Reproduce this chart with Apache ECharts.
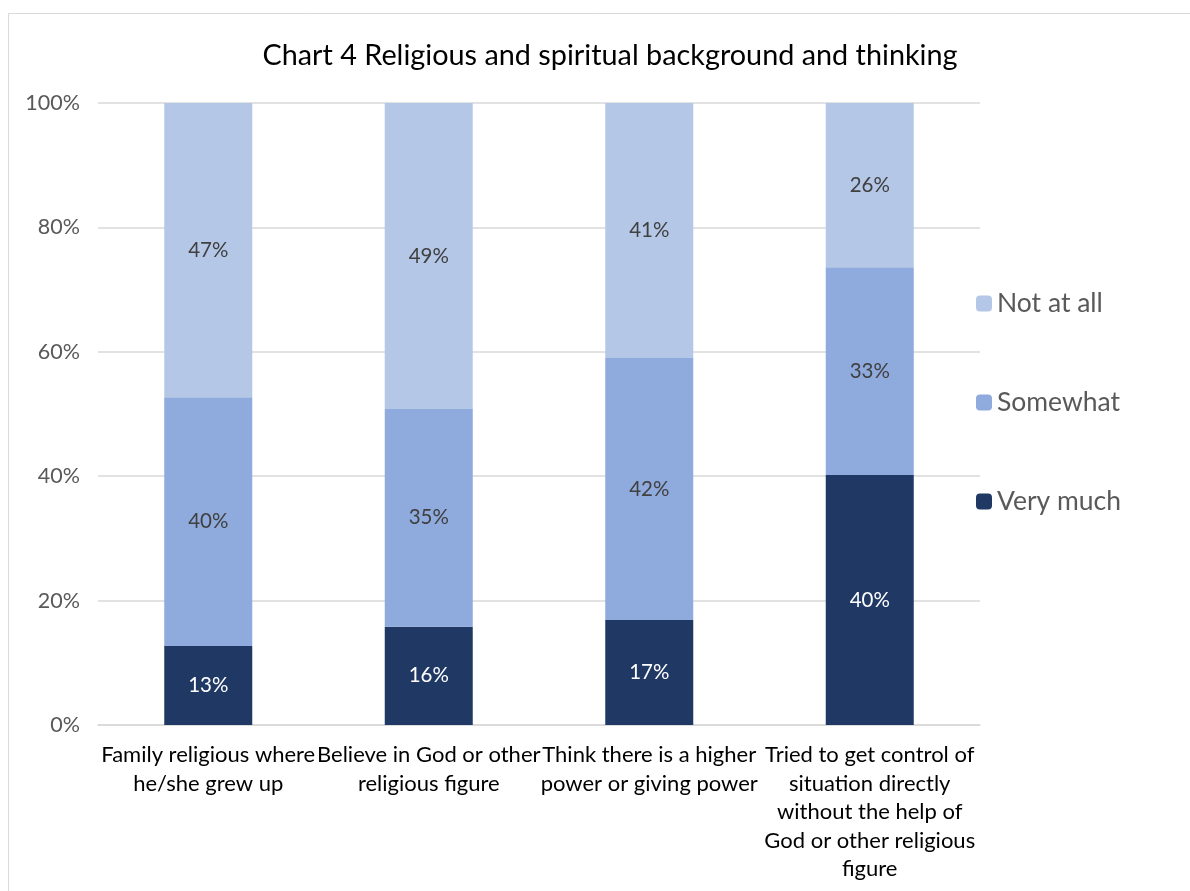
<!DOCTYPE html>
<html>
<head>
<meta charset="utf-8">
<script src="https://cdn.jsdelivr.net/npm/echarts@6/dist/echarts.min.js"></script>
<style>html,body{margin:0;padding:0;background:#fff;}#c{width:1190px;height:891px;}</style>
</head>
<body>
<div id="c"></div>
<script>
const categories = [
  "Family religious where\nhe/she grew up",
  "Believe in God or other\nreligious figure",
  "Think there is a higher\npower or giving power",
  "Tried to get control of\nsituation directly\nwithout the help of\nGod or other religious\nfigure"
];
const veryMuch = [12.7, 15.8, 16.9, 40.2];
const somewhat = [40.0, 35.0, 42.1, 33.4];
const notAtAll = [47.3, 49.2, 41.0, 26.4];
const yTicks = [0, 20, 40, 60, 80, 100];

const FONT = 'Lato, "Open Sans", sans-serif';
const chart = echarts.init(document.getElementById('c'));
const lbl = (color) => ({
  show: true, position: 'inside', color: color, fontSize: 20.5, fontFamily: FONT,
  formatter: p => Math.round(p.value) + '%'
});
chart.setOption({
  animation: false,
  textStyle: { fontFamily: FONT },
  title: {
    text: 'Chart 4 Religious and spiritual background and thinking',
    left: 605, top: 36, textAlign: 'center',
    textStyle: { fontSize: 28.8, fontWeight: 'normal', color: '#000', fontFamily: FONT }
  },
  graphic: [{
    type: 'rect', shape: { x: 8.5, y: 13.5, width: 1190, height: 900 },
    style: { fill: 'none', stroke: '#d9d9d9', lineWidth: 1 }, silent: true
  }],
  legend: {
    orient: 'vertical', left: 971, top: 285, itemGap: 72,
    itemWidth: 16, itemHeight: 16, padding: 5,
    data: ['Not at all', 'Somewhat', 'Very much'],
    textStyle: { fontSize: 26.5, color: '#595959', fontFamily: FONT }
  },
  grid: { left: 98, right: 210, top: 103, bottom: 166 },
  xAxis: {
    type: 'category', data: categories,
    axisTick: { show: false },
    axisLine: { lineStyle: { color: '#d9d9d9', width: 1.5 } },
    axisLabel: { interval: 0, fontSize: 22, color: '#000', lineHeight: 28.5, margin: 16, fontFamily: FONT }
  },
  yAxis: {
    type: 'value', min: 0, max: 100, interval: 20,
    axisLabel: { formatter: v => yTicks.includes(v) ? v + '%' : '', fontSize: 21.5, color: '#595959', margin: 18, fontFamily: FONT },
    splitLine: { lineStyle: { color: '#d9d9d9', width: 1.5 } },
    axisLine: { show: false }, axisTick: { show: false }
  },
  series: [
    { name: 'Very much', type: 'bar', stack: 't', barWidth: 88, data: veryMuch,
      itemStyle: { color: '#203864' }, label: lbl('#ffffff') },
    { name: 'Somewhat', type: 'bar', stack: 't', barWidth: 88, data: somewhat,
      itemStyle: { color: '#8FAADC' }, label: lbl('#404040') },
    { name: 'Not at all', type: 'bar', stack: 't', barWidth: 88, data: notAtAll,
      itemStyle: { color: '#B4C7E7' }, label: lbl('#404040') }
  ]
});
</script>
</body>
</html>
